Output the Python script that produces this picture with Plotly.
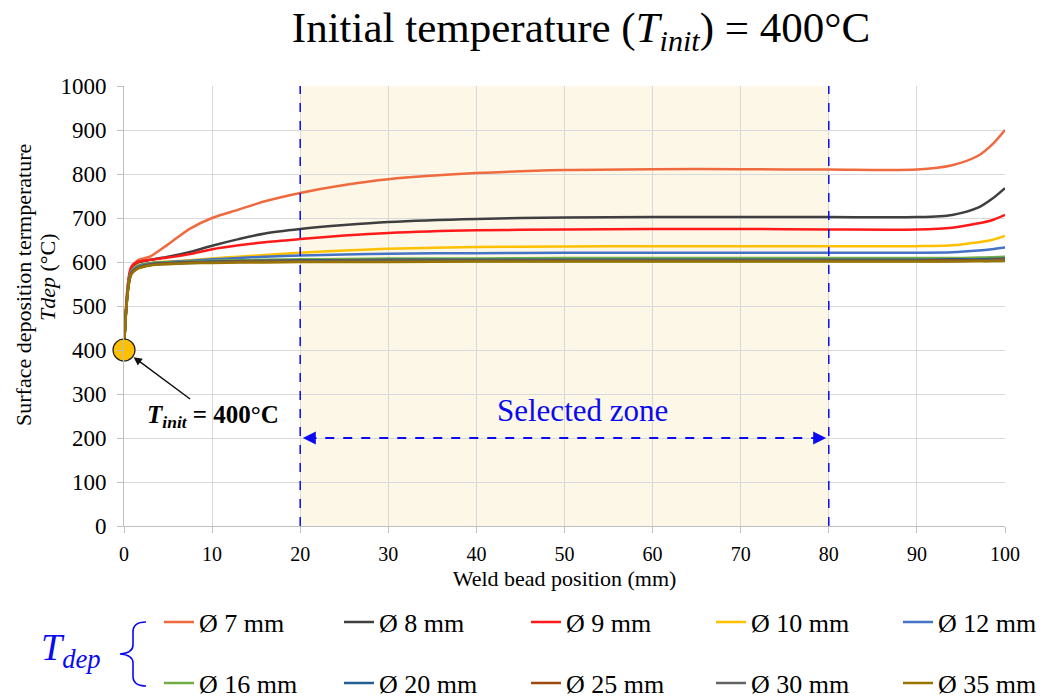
import plotly.graph_objects as go

# ---------------- data ----------------
positions = [0, 0.8, 1.5, 3, 5, 7.5, 10, 13, 16, 20, 25, 30, 40, 50, 60, 70, 80, 90, 94, 97, 98.5, 100]

d7 = [400, 585, 603, 613, 640, 676, 700, 719, 738, 757, 775, 788, 802, 809, 811, 811, 810, 810, 820, 842, 866, 900]
d8 = [400, 583, 598, 605, 612, 623, 637, 652, 665, 675, 684, 691, 698, 701, 702, 702, 702, 702, 707, 724, 743, 768]
d9 = [400, 588, 600, 605, 610, 618, 629, 638, 645, 652, 660, 666, 672, 674, 675, 675, 674, 674, 678, 688, 695, 707]
d10 = [400, 578, 592, 598, 601, 604, 608, 612, 616, 621, 626, 630, 634, 635, 636, 636, 636, 636, 638, 645, 650, 659]
d12 = [400, 577, 590, 597, 600, 603, 606, 609, 612, 615, 617, 619, 620, 621, 621, 621, 621, 621, 622, 626, 629, 633]
d16 = [400, 575, 588, 596, 599, 601, 603, 604, 605, 606, 607, 608, 608, 609, 609, 609, 609, 609, 609, 610, 611, 612]
d20 = [400, 574, 587, 595, 598, 600, 601, 602, 603, 604, 604, 605, 605, 605, 605, 605, 605, 605, 606, 606, 607, 608]
d25 = [400, 573, 586, 594, 597, 599, 600, 601, 602, 602, 603, 603, 603, 603, 603, 603, 603, 603, 604, 604, 605, 606]
d30 = [400, 572, 585, 593, 596, 598, 599, 600, 601, 601, 602, 602, 602, 602, 602, 602, 602, 602, 602, 603, 604, 605]
d35 = [400, 570, 584, 592, 595, 597, 598, 599, 599, 600, 600, 600, 601, 601, 601, 601, 601, 601, 601, 602, 602, 603]

series_names = ["Ø 7 mm", "Ø 8 mm", "Ø 9 mm", "Ø 10 mm", "Ø 12 mm",
                "Ø 16 mm", "Ø 20 mm", "Ø 25 mm", "Ø 30 mm", "Ø 35 mm"]
series_values = [d7, d8, d9, d10, d12, d16, d20, d25, d30, d35]
series_colors = ["#EF6A3F", "#3F3F3F", "#FF1A1A", "#FFC000", "#4472C4",
                 "#70AD47", "#255E91", "#9E480E", "#636363", "#997300"]

zone_start, zone_end = 20, 80
t_init = 400
x_ticks = list(range(0, 101, 10))
y_ticks = list(range(0, 1001, 100))

SERIF = "Liberation Serif"
BLUE = "#0A0AF0"

# plot-area pixel frame and helpers for paper coordinates
W, H = 1052, 699
L, R, T, B = 124, 1005, 86, 526
def px(xp):
    return (xp - L) / (R - L)
def py(yp):
    return (B - yp) / (B - T)

# legend grid (pixel positions of each entry's line start)
legend_cols = [158, 338, 525, 710, 897]
legend_rows = [622, 683]

# ---------------- figure ----------------
fig = go.Figure()

legend_layouts = {}
for i, (name, vals, col) in enumerate(zip(series_names, series_values, series_colors)):
    key = "legend" if i == 0 else f"legend{i + 1}"
    fig.add_trace(go.Scatter(
        x=positions, y=vals, name=name, mode="lines",
        line=dict(color=col, width=2.5, shape="spline", smoothing=0.8),
        legend=key,
    ))
    cx = legend_cols[i % 5]
    ry = legend_rows[i // 5]
    legend_layouts[key] = dict(
        x=px(cx + 1), y=py(ry), xanchor="left", yanchor="middle",
        bgcolor="rgba(0,0,0,0)", borderwidth=0,
        font=dict(family=SERIF, size=26, color="#000000"),
    )

# initial temperature marker
fig.add_trace(go.Scatter(
    x=[0], y=[t_init], mode="markers", showlegend=False,
    marker=dict(size=22, color="#FFC000", line=dict(color="#222222", width=1.2)),
    cliponaxis=False,
))

# selected zone background
fig.add_shape(type="rect", x0=zone_start, x1=zone_end, y0=0, y1=1000,
              xref="x", yref="y", fillcolor="#FDF7E8", line_width=0, layer="below")
for xv in (zone_start, zone_end):
    fig.add_shape(type="line", x0=xv, x1=xv, y0=0, y1=1000, xref="x", yref="y",
                  line=dict(color=BLUE, width=1.5, dash="dash"))
# double arrow
fig.add_shape(type="line", x0=zone_start + 0.8, x1=zone_end - 0.8, y0=200, y1=200,
              xref="x", yref="y", line=dict(color=BLUE, width=2, dash="dash"))
for tip, tail in ((zone_start + 0.3, zone_start + 2.0), (zone_end - 0.3, zone_end - 2.0)):
    fig.add_annotation(x=tip, y=200, ax=tail, ay=200, axref="x", ayref="y",
                       xref="x", yref="y", text="", showarrow=True,
                       arrowhead=2, arrowsize=1.3, arrowwidth=2, arrowcolor=BLUE)

fig.add_annotation(x=52, y=(B - 410) / 0.44, xref="x", yref="y", text="Selected zone",
                   showarrow=False, xanchor="center", yanchor="middle",
                   font=dict(family=SERIF, size=31, color=BLUE))

fig.add_annotation(x=0, y=t_init, xref="x", yref="y",
                   text="<b><i>T</i><sub><i>init</i></sub> = 400°C</b>",
                   showarrow=True, ax=89, ay=66, arrowhead=2, arrowsize=1.1,
                   arrowwidth=1.5, arrowcolor="#111111", standoff=12,
                   font=dict(family=SERIF, size=25, color="#000000"))

# y-axis title (two lines)
fig.add_annotation(x=px(23), y=py(285), xref="paper", yref="paper",
                   xanchor="center", yanchor="middle",
                   text="Surface deposition termperature", textangle=-90,
                   showarrow=False, font=dict(family=SERIF, size=22, color="#000000"))
fig.add_annotation(x=px(47), y=py(277), xref="paper", yref="paper",
                   xanchor="center", yanchor="middle",
                   text="<i>Tdep</i> (°C)", textangle=-90,
                   showarrow=False, font=dict(family=SERIF, size=22, color="#000000"))

# legend label T_dep and brace
fig.add_annotation(x=px(71), y=py(650), xref="paper", yref="paper",
                   xanchor="center", yanchor="middle",
                   text="<i>T</i><sub><i>dep</i></sub>", showarrow=False,
                   font=dict(family=SERIF, size=38, color=BLUE))
brace = (f"M {px(146)},{py(622)} Q {px(133)},{py(622)} {px(133)},{py(632)} "
         f"L {px(133)},{py(645)} Q {px(133)},{py(653)} {px(120)},{py(654)} "
         f"Q {px(133)},{py(655)} {px(133)},{py(663)} "
         f"L {px(133)},{py(676)} Q {px(133)},{py(686)} {px(146)},{py(686)}")
fig.add_shape(type="path", path=brace, xref="paper", yref="paper",
              line=dict(color=BLUE, width=1.6))

fig.update_layout(
    width=W, height=H,
    margin=dict(l=L, r=W - R, t=T, b=H - B, autoexpand=False),
    paper_bgcolor="white", plot_bgcolor="white",
    font=dict(family=SERIF, color="#000000"),
    title=dict(text="Initial temperature (<i>T</i><sub><i>init</i></sub>) = 400°C",
               x=581 / W, xref="container", xanchor="center",
               y=1 - 27 / H, yref="container", yanchor="middle",
               font=dict(family=SERIF, size=43, color="#000000")),
    xaxis=dict(range=[0, 100], tickvals=x_ticks, showgrid=True, gridcolor="#D9D9D9",
               zeroline=False, showline=True, linecolor="#BFBFBF", linewidth=1,
               ticks="outside", ticklen=6, tickcolor="#BFBFBF", ticklabelstandoff=4,
               tickfont=dict(family=SERIF, size=20),
               title=dict(text="Weld bead position (mm)", standoff=6,
                          font=dict(family=SERIF, size=22))),
    yaxis=dict(range=[0, 1000], tickvals=y_ticks, showgrid=True, gridcolor="#D9D9D9",
               zeroline=False, showline=True, linecolor="#BFBFBF", linewidth=1,
               ticks="outside", ticklen=6, tickcolor="#BFBFBF", ticklabelstandoff=6,
               tickfont=dict(family=SERIF, size=23)),
    **legend_layouts,
)

fig.write_html("out.html")
